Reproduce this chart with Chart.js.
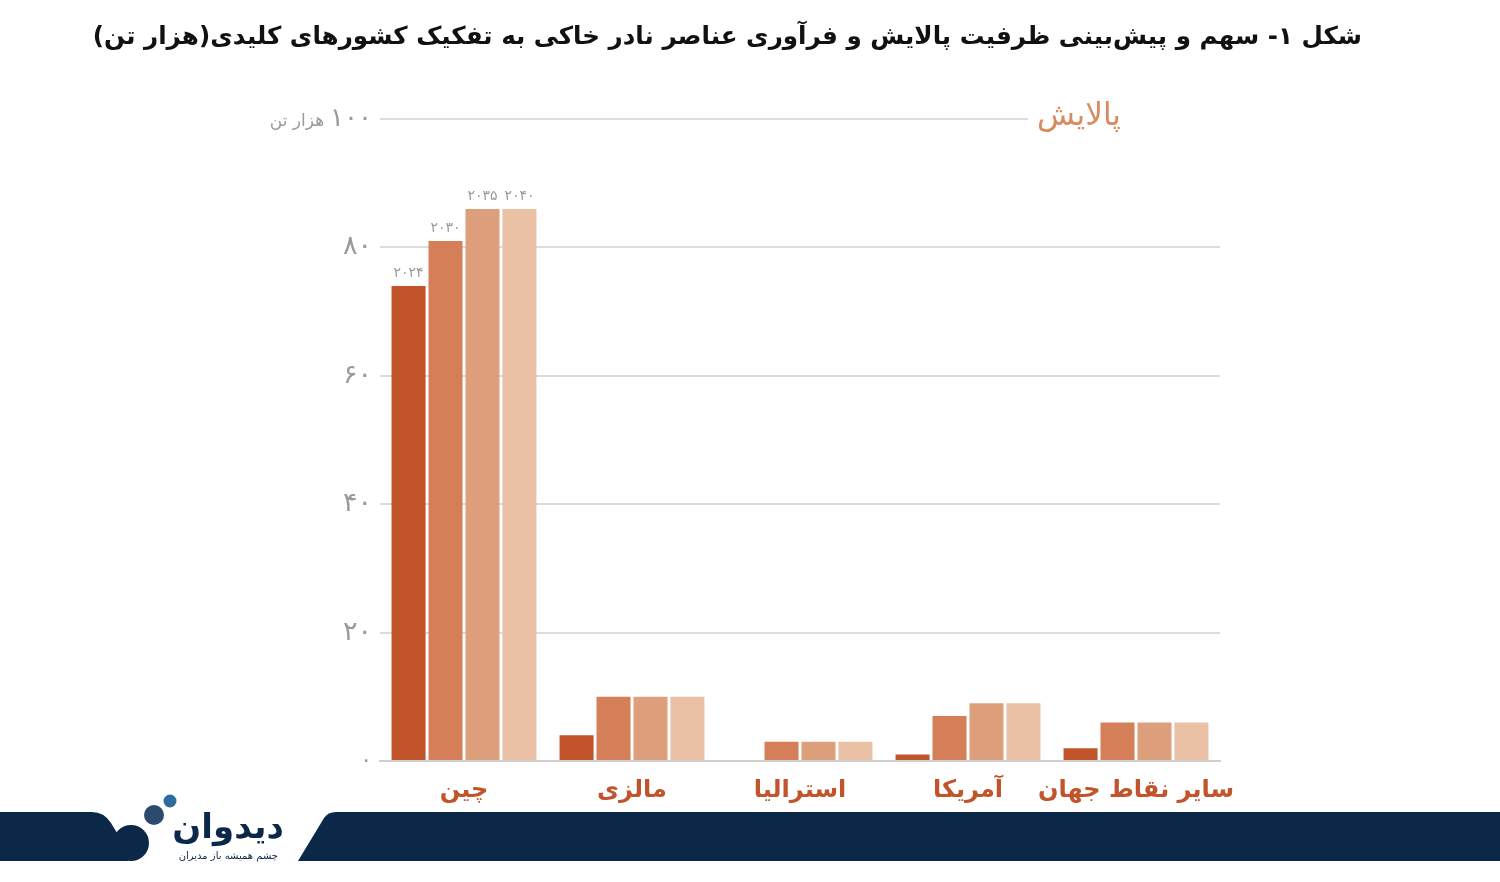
<!DOCTYPE html>
<html lang="fa">
<head>
<meta charset="utf-8">
<script src="https://cdn.jsdelivr.net/npm/chart.js@4.4.1/dist/chart.umd.min.js"></script>
<style>
  html, body { margin: 0; padding: 0; background: #ffffff; }
  #wrap { position: relative; width: 1500px; height: 882px; }
  canvas { display: block; }
</style>
</head>
<body>
<div id="wrap"><canvas id="c" width="1500" height="882"></canvas></div>
<script>
// ---- Data ----
const categories = ['چین', 'مالزی', 'استرالیا', 'آمریکا', 'سایر نقاط جهان'];
const years = ['۲۰۲۴', '۲۰۳۰', '۲۰۳۵', '۲۰۴۰'];
const values2024 = [74, 4, 0, 1, 2];
const values2030 = [81, 10, 3, 7, 6];
const values2035 = [86, 10, 3, 9, 6];
const values2040 = [86, 10, 3, 9, 6];
const yTickLabels = { 0: '۰', 20: '۲۰', 40: '۴۰', 60: '۶۰', 80: '۸۰', 100: '۱۰۰' };
const yUnit = 'هزار تن';
const titleText = 'شکل ۱- سهم و پیش‌بینی ظرفیت پالایش و فرآوری عناصر نادر خاکی به تفکیک کشورهای کلیدی(هزار تن)';
const panelLabel = 'پالایش';
const brandName = 'دیدوان';
const brandSlogan = 'چشم همیشه باز مدیران';

const colors = ['#c1542a', '#d47f57', '#dea07c', '#ebc1a5'];
const FONT = '"DejaVu Sans", "Noto Sans", sans-serif';

const seriesValues = [values2024, values2030, values2035, values2040];

const decorPlugin = {
  id: 'decor',
  beforeDraw(chart) {
    const ctx = chart.ctx;
    ctx.save();
    ctx.fillStyle = '#ffffff';
    ctx.fillRect(0, 0, chart.width, chart.height);
    ctx.restore();
  },
  afterDatasetsDraw(chart) {
    const ctx = chart.ctx;
    ctx.save();
    ctx.fillStyle = '#9a9a9a';
    ctx.font = '14px ' + FONT;
    ctx.textAlign = 'center';
    ctx.textBaseline = 'bottom';
    chart.data.datasets.forEach((ds, i) => {
      const el = chart.getDatasetMeta(i).data[0];
      if (el) ctx.fillText(years[i], el.x, el.y - 6);
    });
    ctx.restore();
  },
  afterDraw(chart) {
    const ctx = chart.ctx;
    const ys = chart.scales.y;
    const y100 = ys.getPixelForValue(100);
    ctx.save();
    ctx.fillStyle = '#ffffff';
    ctx.fillRect(1028, y100 - 4, 200, 8);
    ctx.direction = 'rtl';
    ctx.textAlign = 'right';
    ctx.textBaseline = 'middle';
    ctx.fillStyle = '#d98b60';
    ctx.font = '31px ' + FONT;
    ctx.fillText(panelLabel, 1121, y100 - 2);
    ctx.restore();

    ctx.save();
    ctx.fillStyle = '#9a9a9a';
    ctx.textBaseline = 'middle';
    ctx.textAlign = 'right';
    ctx.font = '26px ' + FONT;
    const numTxt = yTickLabels[100];
    ctx.fillText(numTxt, 372, y100);
    const w = ctx.measureText(numTxt).width;
    ctx.font = '17px ' + FONT;
    ctx.fillText(yUnit, 372 - w - 6, y100 + 3);
    ctx.restore();

    ctx.save();
    ctx.direction = 'rtl';
    ctx.textAlign = 'right';
    ctx.textBaseline = 'middle';
    ctx.fillStyle = '#111111';
    let size = 31;
    ctx.font = 'bold ' + size + 'px ' + FONT;
    const tw = ctx.measureText(titleText).width;
    if (tw > 1270) { size = size * 1270 / tw; ctx.font = 'bold ' + size + 'px ' + FONT; }
    ctx.fillText(titleText, 1362, 38);
    ctx.restore();

    ctx.save();
    const navy = '#0c2848';
    ctx.fillStyle = navy;
    ctx.beginPath();
    ctx.moveTo(0, 812);
    ctx.lineTo(92, 812);
    ctx.quadraticCurveTo(104, 812, 111, 823);
    ctx.lineTo(125, 846);
    ctx.lineTo(128, 861);
    ctx.lineTo(0, 861);
    ctx.closePath();
    ctx.fill();
    ctx.beginPath();
    ctx.arc(131, 843, 18, 0, Math.PI * 2);
    ctx.fill();
    ctx.fillStyle = '#2c4a6e';
    ctx.beginPath();
    ctx.arc(154, 815, 10, 0, Math.PI * 2);
    ctx.fill();
    ctx.fillStyle = '#2f6b9c';
    ctx.beginPath();
    ctx.arc(170, 801, 6.5, 0, Math.PI * 2);
    ctx.fill();
    ctx.fillStyle = navy;
    ctx.beginPath();
    ctx.moveTo(298, 861);
    ctx.lineTo(324, 818);
    ctx.quadraticCurveTo(328, 812, 336, 812);
    ctx.lineTo(1500, 812);
    ctx.lineTo(1500, 861);
    ctx.closePath();
    ctx.fill();
    ctx.direction = 'rtl';
    ctx.textAlign = 'right';
    ctx.fillStyle = navy;
    ctx.textBaseline = 'alphabetic';
    ctx.font = 'bold 34px ' + FONT;
    ctx.fillText(brandName, 284, 838);
    ctx.font = '10px ' + FONT;
    ctx.fillText(brandSlogan, 278, 859);
    ctx.restore();
  }
};

new Chart(document.getElementById('c'), {
  type: 'bar',
  data: {
    labels: categories,
    datasets: seriesValues.map((vals, i) => ({
      label: years[i],
      data: vals,
      backgroundColor: colors[i],
      borderWidth: 0,
      categoryPercentage: 0.88,
      barPercentage: 0.92
    }))
  },
  options: {
    responsive: false,
    animation: false,
    devicePixelRatio: 1,
    layout: { padding: { top: 119, right: 280, left: 0, bottom: 0 } },
    plugins: { legend: { display: false }, tooltip: { enabled: false }, title: { display: false } },
    scales: {
      x: {
        grid: { display: false },
        border: { display: true, color: '#cfcfcf', width: 2 },
        ticks: {
          color: '#c1542a',
          font: { family: FONT, size: 24, weight: 'bold' },
          padding: 7,
          maxRotation: 0,
          autoSkip: false
        },
        afterFit(scale) { scale.height = 121; }
      },
      y: {
        min: 0,
        max: 100,
        ticks: {
          stepSize: 20,
          color: '#9a9a9a',
          padding: 8,
          font: (c) => ({ family: FONT, size: c.tick && c.tick.value === 0 ? 22 : 27 }),
          callback: (v) => (v === 100 ? '' : (yTickLabels[v] !== undefined ? yTickLabels[v] : ''))
        },
        grid: {
          drawTicks: false,
          color: (c) => (c.tick && c.tick.value === 0 ? 'rgba(0,0,0,0)' : '#dcdcdc'),
          lineWidth: 2
        },
        border: { display: false },
        afterFit(scale) { scale.width = 380; }
      }
    }
  },
  plugins: [decorPlugin]
});
</script>
</body>
</html>
